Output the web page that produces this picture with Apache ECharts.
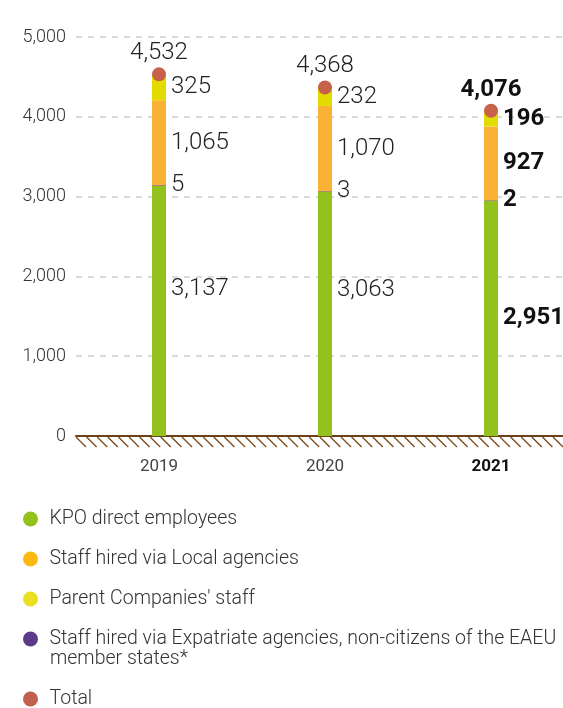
<!DOCTYPE html>
<html>
<head>
<meta charset="utf-8">
<script src="https://cdn.jsdelivr.net/npm/echarts@6/dist/echarts.min.js"></script>
<style>
html,body{margin:0;padding:0;background:#fff;}
#c{width:563px;height:708px;}
</style>
</head>
<body>
<div id="c"></div>
<script>
var years = ['2019', '2020', '2021'];
var kpoDirect = [3137, 3063, 2951];
var expatAgencies = [5, 3, 2];
var localAgencies = [1065, 1070, 927];
var parentStaff = [325, 232, 196];
var totals = [4532, 4368, 4076];
var yTicks = [0, 1000, 2000, 3000, 4000, 5000];

var NAME_KPO = 'KPO direct employees';
var NAME_LOCAL = 'Staff hired via Local agencies';
var NAME_PARENT = "Parent Companies' staff";
var NAME_EXPAT = 'Staff hired via Expatriate agencies, non-citizens of the EAEU member states*';
var NAME_TOTAL = 'Total';

var FONT = 'Roboto';
var fmt = function (v) { return Number(v).toLocaleString('en-US'); };
var boldIdx = 2;

function items(arr, extraOffset) {
  return arr.map(function (v, i) {
    var lab = { fontWeight: i === boldIdx ? 'bold' : 300, color: i === boldIdx ? '#111' : '#222' };
    if (extraOffset && extraOffset[i]) lab.offset = extraOffset[i];
    return { value: v, label: lab };
  });
}

var barLabel = {
  show: true, position: 'right', distance: 5,
  fontFamily: FONT, fontSize: 24,
  formatter: function (p) { return fmt(p.value); }
};

var chart = echarts.init(document.getElementById('c'), null, { renderer: 'canvas' });

var legendText = { fontFamily: FONT, fontSize: 19.5, color: '#333', fontWeight: 300 };

var option = {
  animation: false,
  backgroundColor: '#fff',
  grid: { left: 76, width: 498, top: 37, bottom: 272, containLabel: false, outerBoundsMode: 'none' },
  xAxis: {
    type: 'category', data: years,
    axisLine: { show: true, lineStyle: { color: '#6b4218', width: 2 } },
    axisTick: { show: false },
    axisLabel: {
      margin: 22, fontFamily: FONT, fontSize: 17, color: '#444',
      formatter: function (v, i) { return i === boldIdx ? '{b|' + v + '}' : v; },
      rich: { b: { fontFamily: FONT, fontSize: 17, fontWeight: 'bold', color: '#111' } }
    }
  },
  yAxis: {
    type: 'value', min: yTicks[0], max: yTicks[yTicks.length - 1], interval: 1000,
    axisLine: { show: false }, axisTick: { show: false },
    axisLabel: { margin: 10, fontFamily: FONT, fontSize: 18, fontWeight: 300, color: '#333', formatter: fmt },
    splitLine: { show: true, lineStyle: { color: '#d0d0d0', type: [6, 6], width: 1.5 } }
  },
  legend: [{
    orient: 'vertical', left: 18, top: 504, itemGap: 20,
    icon: 'circle', itemWidth: 28, itemHeight: 15,
    textStyle: legendText,
    data: [
      { name: NAME_KPO, itemStyle: { color: '#95c11f' } },
      { name: NAME_LOCAL, itemStyle: { color: '#fdb913' } },
      { name: NAME_PARENT, itemStyle: { color: '#e8e020' } },
      { name: NAME_EXPAT, itemStyle: { color: '#5c3a8a' } }
    ],
    formatter: function (n) { return n === NAME_EXPAT ? 'Staff hired via Expatriate agencies, non-citizens of the EAEU' : n; },
    selectedMode: false
  }, {
    orient: 'vertical', left: 18, top: 684,
    icon: 'circle', itemWidth: 28, itemHeight: 15,
    textStyle: legendText,
    data: [{ name: NAME_TOTAL, itemStyle: { color: '#c0604d' } }], selectedMode: false
  }],
  series: [
    { name: NAME_KPO, type: 'bar', stack: 's', barWidth: 14, itemStyle: { color: '#95c11f' },
      label: barLabel, data: items(kpoDirect, [[0, -22], [0, -24], null]) },
    { name: NAME_EXPAT, type: 'bar', stack: 's', barWidth: 14, barMinHeight: 1.5, itemStyle: { color: '#5c3a8a' },
      label: barLabel, data: items(expatAgencies) },
    { name: NAME_LOCAL, type: 'bar', stack: 's', barWidth: 14, itemStyle: { color: '#f9b233' },
      label: barLabel, data: items(localAgencies) },
    { name: NAME_PARENT, type: 'bar', stack: 's', barWidth: 14, itemStyle: { color: '#e3dc00' },
      label: barLabel, data: items(parentStaff) },
    { name: NAME_TOTAL, type: 'scatter', symbol: 'circle', symbolSize: 14, z: 5,
      itemStyle: { color: '#c8614a', opacity: 1 },
      label: { show: true, position: 'top', distance: 2, fontFamily: FONT, fontSize: 24,
        formatter: function (p) { return fmt(p.value); } },
      data: items(totals) }
  ]
};
chart.setOption(option);

// decorative hatching under the baseline + wrapped legend line
var y0 = chart.convertToPixel({ yAxisIndex: 0 }, 0);
var gridLeft = 76;
var hatch = [];
for (var x = gridLeft; x < 563; x += 10.6) {
  hatch.push({ type: 'line', silent: true,
    shape: { x1: x, y1: y0 + 1, x2: x + 10, y2: y0 + 11 },
    style: { stroke: '#7b4a1a', lineWidth: 1.3 } });
}
hatch.push({ type: 'text', left: 50, top: 649, silent: true,
  style: { text: 'member states*', font: '300 19.5px Roboto', fill: '#333' } });
chart.setOption({ graphic: hatch });
</script>
</body>
</html>
